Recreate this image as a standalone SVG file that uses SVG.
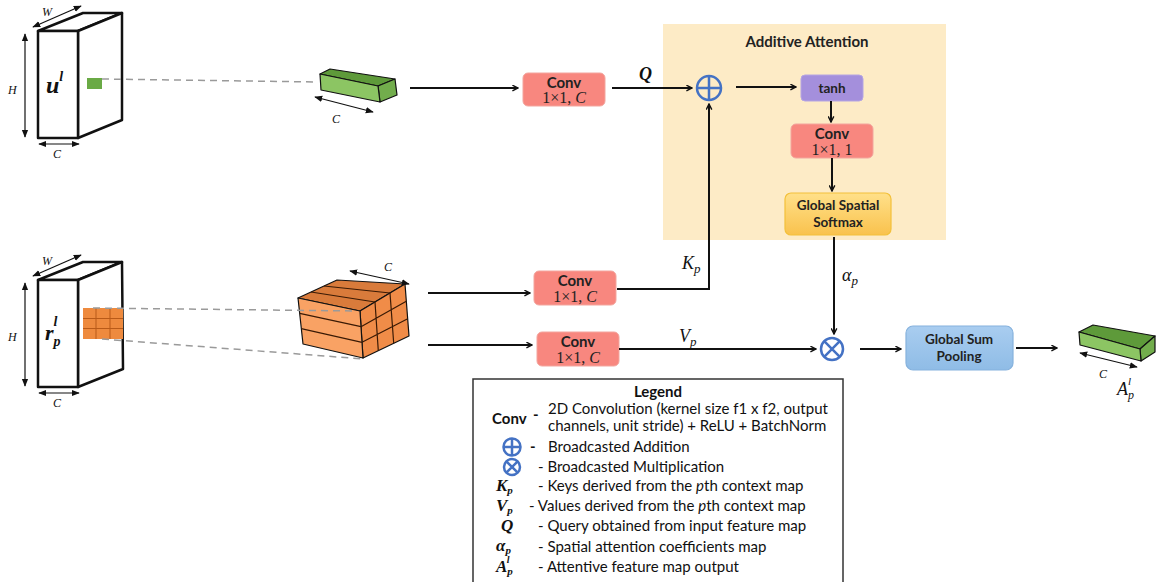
<svg xmlns="http://www.w3.org/2000/svg" width="1158" height="582" viewBox="0 0 1158 582">
<defs>
<marker id="ah" viewBox="0 0 10 10" refX="9" refY="5" markerWidth="7" markerHeight="7" orient="auto" markerUnits="userSpaceOnUse">
<path d="M1,1 L9,5 L1,9" fill="none" stroke="#111" stroke-width="2"/>
</marker>
<marker id="dh" viewBox="0 0 10 10" refX="9" refY="5" markerWidth="8" markerHeight="8" orient="auto-start-reverse" markerUnits="userSpaceOnUse">
<path d="M0,1 L10,5 L0,9 Z" fill="#111"/>
</marker>
<linearGradient id="gss" x1="0" y1="0" x2="0" y2="1">
<stop offset="0" stop-color="#ffe08a"/><stop offset="1" stop-color="#f9c24d"/>
</linearGradient>
<linearGradient id="gsp" x1="0" y1="0" x2="0" y2="1">
<stop offset="0" stop-color="#a9cdf0"/><stop offset="1" stop-color="#8fbce6"/>
</linearGradient>
</defs>
<style>
.blk{fill:#fff;stroke:#111;stroke-width:2.5;stroke-linejoin:round}
.dim{stroke:#111;stroke-width:1.2;marker-start:url(#dh);marker-end:url(#dh)}
.dash{stroke:#9a9a9a;stroke-width:1.5;stroke-dasharray:7,5;fill:none}
.arr{stroke:#111;stroke-width:2;fill:none;marker-end:url(#ah)}
.conv{fill:#f8877f;stroke:#f3a59e;stroke-width:1}
.bx{font-family:Lato,'Open Sans',sans-serif;font-weight:700;font-size:15px;text-anchor:middle;fill:#222}
.bxs{font-family:Lato,'Open Sans',sans-serif;font-weight:700;font-size:13.5px;text-anchor:middle;fill:#222}
.num{font-family:'Liberation Serif',serif;font-size:16px;text-anchor:middle;fill:#222}
.mth{font-family:'Liberation Serif',serif;font-style:italic;font-size:18px;fill:#111}
.sm{font-family:'Liberation Serif',serif;font-style:italic;font-size:12px;fill:#111}
.gr{stroke:#111;stroke-width:1.2;stroke-linejoin:round}
.ol{stroke:#111;stroke-width:1.2;stroke-linejoin:round}
.oline{stroke:#3a1a05;stroke-width:1.2;fill:none}
.lg{font-family:Lato,'Open Sans',sans-serif;font-size:15px;fill:#111}
.lgb{font-family:Lato,'Open Sans',sans-serif;font-size:15px;font-weight:700;fill:#111}
.lm{font-family:'Liberation Serif',serif;font-style:italic;font-weight:700;font-size:17px;fill:#111}
.op{fill:none;stroke:#4472c4;stroke-width:2.5}
</style>

<!-- attention panel -->
<g id="panel">
<rect x="663" y="24" width="283" height="216" fill="#fdebc6"/>
<text x="807" y="47" class="bx">Additive Attention</text>
</g>

<!-- input block u^l -->
<g id="ul-block">
<polygon class="blk" points="38,31 83,13 122,13 78,31"/>
<polygon class="blk" points="78,31 122,13 122,120 78,138"/>
<rect class="blk" x="38" y="31" width="40" height="107"/>
<rect x="87" y="78" width="15" height="11" fill="#6aaa45"/>
<text x="46" y="93" font-family="Liberation Serif,serif" font-style="italic" font-weight="700" font-size="24" fill="#111">u<tspan font-size="14" dy="-12">l</tspan></text>
<line class="dim" x1="33" y1="27" x2="81" y2="6"/>
<text x="42" y="16" class="sm">W</text>
<line class="dim" x1="25" y1="34" x2="25" y2="137"/>
<text x="8" y="94" class="sm">H</text>
<line class="dim" x1="39" y1="144" x2="79" y2="144"/>
<text x="53" y="158" class="sm">C</text>
</g>

<!-- green vector -->
<g id="q-vector">
<polygon class="gr" fill="#5e9a3a" points="320,74 330,69 395,79 378,86"/>
<polygon class="gr" fill="#72ad4c" points="378,86 395,79 397,95 380,102"/>
<polygon class="gr" fill="#8cc563" points="320,74 378,86 380,102 321,90"/>
<line class="dim" x1="315" y1="97" x2="373" y2="112"/>
<text x="332" y="123" class="sm" font-size="13">C</text>
</g>

<!-- context block r_p^l -->
<g id="rp-block">
<polygon class="blk" points="38,280 83,262 122,262 78,280"/>
<polygon class="blk" points="78,280 122,262 123,369 78,387"/>
<rect class="blk" x="38" y="280" width="40" height="107"/>
<rect x="83" y="308" width="40" height="31" fill="#ee8a3e"/>
<path d="M96,308V339M110,308V339M83,318.5H123M83,328.5H123" stroke="#b95a18" stroke-width="1" fill="none"/>
<text x="45" y="340" font-family="Liberation Serif,serif" font-style="italic" font-weight="700" font-size="22" fill="#111">r<tspan font-size="14" dy="6">p</tspan><tspan font-size="14" dx="-7" dy="-20">l</tspan></text>
<line class="dim" x1="33" y1="276" x2="81" y2="255"/>
<text x="42" y="265" class="sm">W</text>
<line class="dim" x1="25" y1="283" x2="25" y2="386"/>
<text x="8" y="341" class="sm">H</text>
<line class="dim" x1="39" y1="393" x2="79" y2="393"/>
<text x="53" y="407" class="sm">C</text>
</g>

<!-- orange cube -->
<g id="kv-cube">
<polygon class="ol" fill="#d97b3b" points="298,298 337,280 405,284 360,311"/>
<polygon class="ol" fill="#f08c48" points="360,311 405,284 409,336 363,358"/>
<polygon class="ol" fill="#f9a264" points="298,298 360,311 363,358 303,344"/>
<path class="oline" d="M299.7,313.3L361,326.7M301.3,328.7L362,342.3M311,292L375,302M324,286L390,293M361,326.7L406.3,301.3M362,342.3L407.7,318.7M375,302L378.3,350.7M390,293L393.7,343.3"/>
<line class="dim" x1="350" y1="271" x2="409" y2="284"/>
<text x="384" y="271" class="sm" font-size="13">C</text>
</g>

<!-- dashed projections -->
<g id="projections">
<line class="dash" x1="102" y1="79" x2="318" y2="82"/>
<line class="dash" x1="93" y1="308" x2="356" y2="311"/>
<line class="dash" x1="102" y1="339" x2="364" y2="359"/>
</g>

<!-- nodes -->
<g id="conv-q">
<rect class="conv" x="523" y="73" width="82" height="33" rx="5"/>
<text x="564" y="88" class="bx">Conv</text>
<text x="564" y="103" class="num">1×1, <tspan font-style="italic">C</tspan></text>
</g>
<g id="conv-k">
<rect class="conv" x="534" y="271" width="82" height="34" rx="5"/>
<text x="575" y="286" class="bx">Conv</text>
<text x="575" y="302" class="num">1×1, <tspan font-style="italic">C</tspan></text>
</g>
<g id="conv-v">
<rect class="conv" x="537" y="332" width="82" height="34" rx="5"/>
<text x="578" y="347" class="bx">Conv</text>
<text x="578" y="363" class="num">1×1, <tspan font-style="italic">C</tspan></text>
</g>
<g id="add">
<circle class="op" cx="709" cy="88" r="12"/>
<path class="op" d="M697,88H721M709,76V100"/>
</g>
<g id="tanh">
<rect x="801" y="75" width="62" height="26" rx="4" fill="#a48fdc" stroke="#b5a5e3"/>
<text x="832" y="93" class="bxs">tanh</text>
</g>
<g id="conv-a">
<rect class="conv" x="791" y="124" width="82" height="34" rx="5"/>
<text x="832" y="139" class="bx">Conv</text>
<text x="832" y="155" class="num">1×1, 1</text>
</g>
<g id="softmax">
<rect x="785" y="193" width="106" height="42" rx="6" fill="url(#gss)" stroke="#f3c03a" stroke-width="1.2"/>
<text x="838" y="210" class="bxs">Global Spatial</text>
<text x="838" y="227" class="bxs">Softmax</text>
</g>
<g id="mul">
<circle class="op" cx="832" cy="349" r="11"/>
<path class="op" d="M824.2,341.2L839.8,356.8M839.8,341.2L824.2,356.8"/>
</g>
<g id="gsp">
<rect x="906" y="326" width="107" height="44" rx="7" fill="url(#gsp)" stroke="#86b2dd" stroke-width="1.2"/>
<text x="959" y="344" class="bxs">Global Sum</text>
<text x="959" y="361" class="bxs">Pooling</text>
</g>
<g id="output">
<polygon class="gr" fill="#5e9a3a" points="1079,332 1093,325 1155,336 1140,349"/>
<polygon class="gr" fill="#72ad4c" points="1140,349 1155,336 1155,352 1141,361"/>
<polygon class="gr" fill="#8cc563" points="1079,332 1140,349 1141,361 1080,345"/>
<line class="dim" x1="1080" y1="353" x2="1137" y2="367"/>
<text x="1099" y="378" class="sm" font-size="13">C</text>
<text x="1117" y="395" class="mth" font-size="16">A<tspan font-size="12" dy="4">p</tspan><tspan font-size="11" dx="-6" dy="-14">l</tspan></text>
</g>

<!-- connectors -->
<g id="connectors">
<line class="arr" x1="410" y1="88" x2="518" y2="88"/>
<line class="arr" x1="612" y1="88" x2="692" y2="88"/>
<line class="arr" x1="736" y1="87" x2="796" y2="87"/>
<line class="arr" x1="831" y1="101" x2="831" y2="122"/>
<line class="arr" x1="832" y1="158" x2="832" y2="191"/>
<line class="arr" x1="834" y1="237" x2="834" y2="334"/>
<line class="arr" x1="428" y1="293" x2="530" y2="293"/>
<line class="arr" x1="428" y1="345" x2="532" y2="345"/>
<path class="arr" d="M617,289H709V104"/>
<line class="arr" x1="619" y1="349" x2="816" y2="349"/>
<line class="arr" x1="860" y1="349" x2="901" y2="349"/>
<line class="arr" x1="1016" y1="348" x2="1057" y2="348"/>
<text x="639" y="80" class="mth" font-weight="700">Q</text>
<text x="682" y="269" class="mth">K<tspan font-size="13" dy="4">p</tspan></text>
<text x="679" y="342" class="mth">V<tspan font-size="13" dy="4">p</tspan></text>
<text x="842" y="281" class="mth">α<tspan font-size="13" dy="4">p</tspan></text>
</g>

<!-- legend -->
<g id="legend">
<rect x="473" y="379" width="370" height="215" fill="#fff" stroke="#333" stroke-width="1.5"/>
<text x="658" y="397" class="lgb" text-anchor="middle">Legend</text>
<text x="492" y="424" class="lgb">Conv</text>
<text x="533" y="420" class="lgb">-</text>
<text x="548" y="414" class="lg">2D Convolution (kernel size f1 x f2, output</text>
<text x="548" y="431" class="lg">channels, unit stride) + ReLU + BatchNorm</text>
<circle class="op" cx="512" cy="447" r="8.5" stroke-width="2"/>
<path class="op" stroke-width="2" d="M503.5,447H520.5M512,438.5V455.5"/>
<text x="530" y="452" class="lgb">-</text>
<text x="548" y="452" class="lg">Broadcasted Addition</text>
<circle class="op" cx="512" cy="467" r="8" stroke-width="2"/>
<path class="op" stroke-width="2" d="M506.3,461.3L517.7,472.7M517.7,461.3L506.3,472.7"/>
<text x="538" y="472" class="lg">- Broadcasted Multiplication</text>
<text x="496" y="491" class="lm">K<tspan font-size="11" dy="3">p</tspan></text>
<text x="538" y="491" class="lg">- Keys derived from the <tspan font-style="italic">p</tspan>th context map</text>
<text x="496" y="511" class="lm">V<tspan font-size="11" dy="3">p</tspan></text>
<text x="529" y="511" class="lg">- Values derived from the <tspan font-style="italic">p</tspan>th context map</text>
<text x="501" y="531" class="lm">Q</text>
<text x="538" y="531" class="lg">- Query obtained from input feature map</text>
<text x="496" y="551" class="lm">α<tspan font-size="11" dy="3">p</tspan></text>
<text x="538" y="552" class="lg">- Spatial attention coefficients map</text>
<text x="496" y="572" class="lm">A<tspan font-size="11" dy="3">p</tspan><tspan font-size="10" dx="-6" dy="-12">l</tspan></text>
<text x="538" y="572" class="lg">- Attentive feature map output</text>
</g>
</svg>
